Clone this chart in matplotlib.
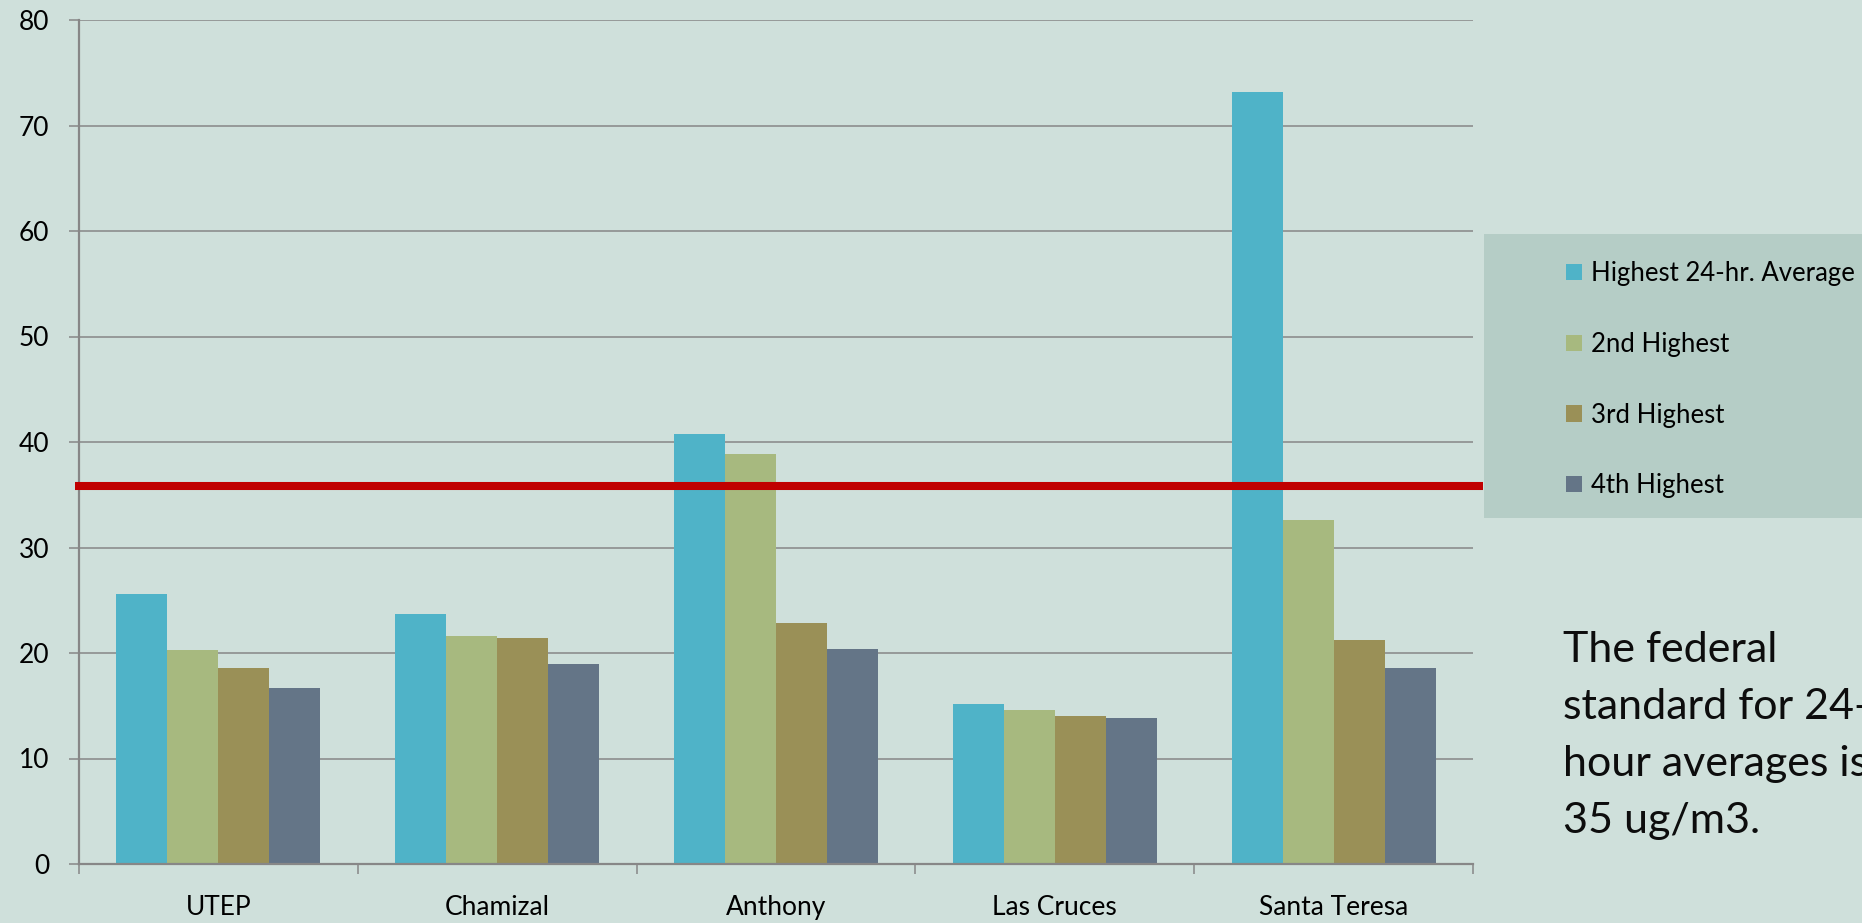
import matplotlib
matplotlib.use("Agg")
import matplotlib.pyplot as plt
import numpy as np
from matplotlib.patches import Rectangle
from matplotlib.transforms import blended_transform_factory

plt.rcParams['font.family'] = ['Lato', 'DejaVu Sans']

categories = ["UTEP", "Chamizal", "Anthony", "Las Cruces", "Santa Teresa"]
series_names = ["Highest 24-hr. Average", "2nd Highest", "3rd Highest", "4th Highest"]
highest = [25.6, 23.7, 40.8, 15.2, 73.2]
second = [20.3, 21.6, 38.9, 14.6, 32.6]
third = [18.6, 21.4, 22.8, 14.0, 21.2]
fourth = [16.7, 19.0, 20.4, 13.8, 18.6]
standard_line = 35.8
y_ticks = [0, 10, 20, 30, 40, 50, 60, 70, 80]
note = "The federal\nstandard for 24-\nhour averages is\n35 ug/m3."

colors = ["#4FB3C8", "#A7B97F", "#9A9057", "#647587"]
bg = "#CFE0DB"
grid_c = "#878787"

W, H = 1862, 923
fig = plt.figure(figsize=(W / 100, H / 100), dpi=100, facecolor=bg)
ax = fig.add_axes([79 / W, 1 - 864 / H, (1473 - 79) / W, (864 - 20) / H])
ax.set_facecolor(bg)

x = np.arange(len(categories))
bw = 0.183
all_series = [highest, second, third, fourth]
for i, (vals, name, c) in enumerate(zip(all_series, series_names, colors)):
    ax.bar(x + (i - 1.5) * bw, vals, width=bw, color=c, label=name, zorder=3, linewidth=0)

ax.set_xlim(-0.5, len(categories) - 0.5)
ax.set_ylim(0, 80)
ax.set_yticks(y_ticks)
ax.set_yticklabels([str(t) for t in y_ticks], fontsize=19)
ax.yaxis.grid(True, color=grid_c, linewidth=1.1, zorder=1)
ax.tick_params(axis='y', length=7.2, width=1.1, color=grid_c, pad=14, labelcolor='black')

ax.set_xticks(x)
ax.set_xticklabels(categories, fontsize=19)
ax.set_xticks(np.arange(len(categories) + 1) - 0.5, minor=True)
ax.tick_params(axis='x', which='major', length=0, pad=22, labelcolor='black')
ax.tick_params(axis='x', which='minor', length=7.2, width=1.1, color=grid_c)

for s in ['top', 'right']:
    ax.spines[s].set_visible(False)
for s in ['left', 'bottom']:
    ax.spines[s].set_color(grid_c)
    ax.spines[s].set_linewidth(1.6)
ax.spines['bottom'].set_zorder(4)

# legend background box
fig.patches.append(Rectangle((1484 / W, 1 - 518 / H), 1 - 1484 / W, (518 - 234) / H,
                             transform=fig.transFigure, facecolor="#B5CDC6",
                             edgecolor='none', zorder=0))

# federal standard line
tr = blended_transform_factory(fig.transFigure, ax.transData)
ax.plot([75 / W, 1483 / W], [standard_line, standard_line], color="#C00000",
        linewidth=5.8, transform=tr, clip_on=False, zorder=5, solid_capstyle='butt')

leg = fig.legend(loc='upper left', bbox_to_anchor=(1543 / W, 1 - 238 / H),
                 frameon=False, fontsize=18.5, handlelength=0.6, handleheight=0.6,
                 handletextpad=0.35, labelspacing=1.78)

fig.text(1563 / W, 1 - 833 / H, note, fontsize=31,
         ha='left', va='baseline', linespacing=1.61, color='#0d0d0d')

fig.savefig("out.png", dpi=100, facecolor=bg)
